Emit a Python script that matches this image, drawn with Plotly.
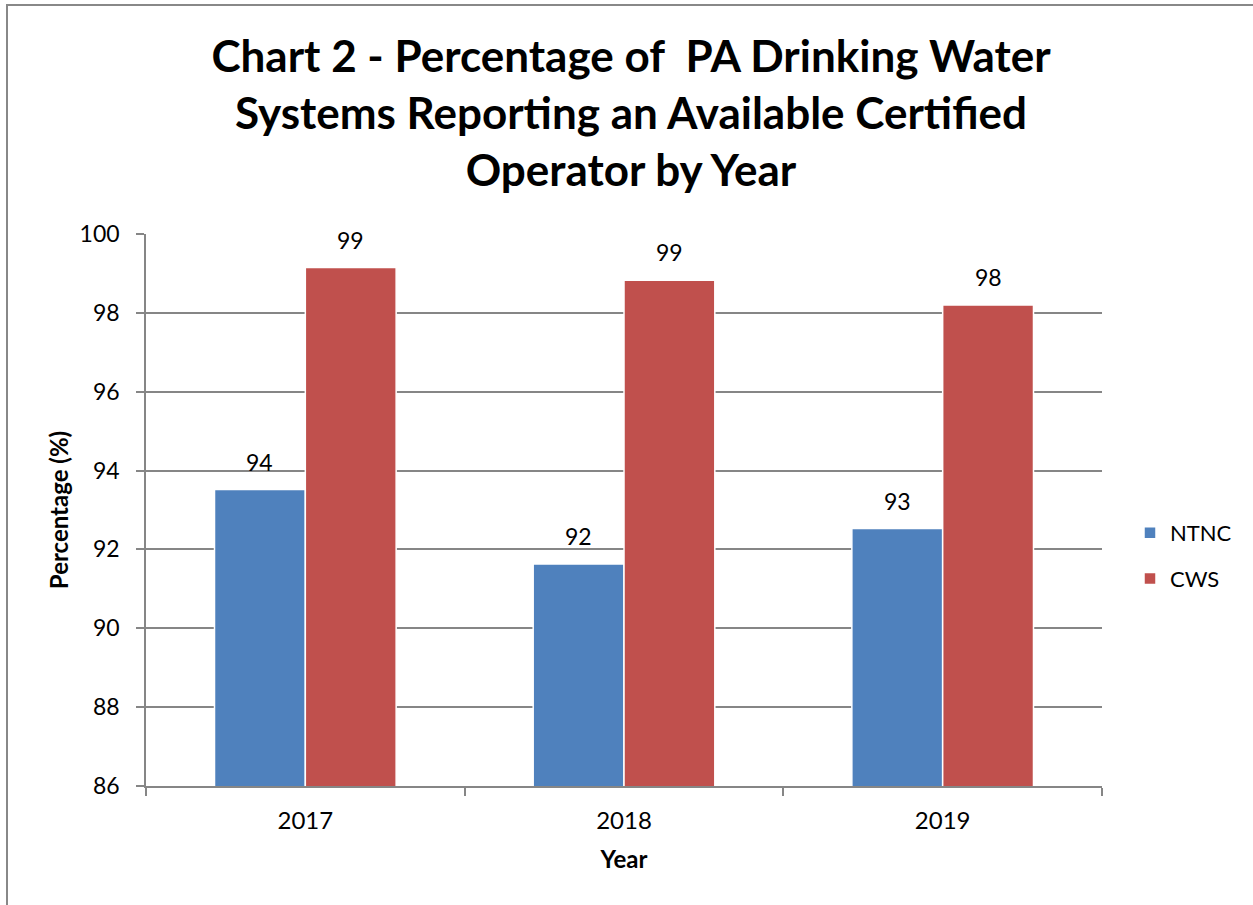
import plotly.graph_objects as go

years = ["2017", "2018", "2019"]
ntnc = [93.52, 91.63, 92.53]
cws = [99.15, 98.83, 98.20]
series_names = ["NTNC", "CWS"]
colors = ["#4F81BD", "#C0504D"]
yticks = [86, 88, 90, 92, 94, 96, 98, 100]

W, H = 1253, 905
L, R, T, B = 146, 151, 234, 119
pw, ph = W - L - R, H - T - B

FONT = "Lato"
BARGAP = 0.43
cat_px = pw / len(years)
bar_px = cat_px * (1 - BARGAP) / 2

fig = go.Figure()
for name, vals, col in zip(series_names, [ntnc, cws], colors):
    fig.add_trace(go.Bar(
        x=years, y=vals, name=name, legendgroup=name,
        marker=dict(color=col, line=dict(color="white", width=1.5)),
    ))

# data labels, placed over each bar via the axes (category index positions)
for i, vals in enumerate([ntnc, cws]):
    shift = (i - 0.5) * bar_px
    for k, v in enumerate(vals):
        fig.add_annotation(
            x=k, y=v, xref="x", yref="y", text=f"{round(v):d}",
            showarrow=False, xanchor="center", yanchor="bottom",
            xshift=shift, yshift=12,
            font=dict(family=FONT, size=23, color="black"),
        )

def px_x(px):
    return (px - L) / pw

def px_y(py):
    return (H - B - py) / ph

fig.update_layout(
    width=W, height=H,
    margin=dict(l=L, r=R, t=T, b=B),
    paper_bgcolor="white", plot_bgcolor="white",
    barmode="group", bargap=BARGAP, bargroupgap=0.0,
    font=dict(family=FONT, color="black"),
    title=dict(
        text="Chart 2 - Percentage of \u00a0PA Drinking Water<br>Systems Reporting an Available Certified<br>Operator by Year",
        x=px_x(631), xanchor="center", xref="paper",
        y=1 - 72 / H, yanchor="top", yref="container",
        font=dict(family=FONT, size=44, color="black", weight="bold"),
    ),
    showlegend=True,
    legend=dict(
        x=px_x(1130), xanchor="left", y=px_y(512), yanchor="top",
        font=dict(family=FONT, size=22, color="black"),
        tracegroupgap=14, itemwidth=30, bgcolor="rgba(0,0,0,0)",
    ),
    xaxis=dict(
        type="category", range=[-0.5, len(years) - 0.5],
        showgrid=False, showline=True, linecolor="#868686", linewidth=1.5,
        ticks="outside", tickson="boundaries", ticklen=8, tickcolor="#868686", tickwidth=1.5,
        ticklabelstandoff=12, tickangle=0,
        tickfont=dict(family=FONT, size=24, color="black"),
        title=dict(text="<b>Year</b>", font=dict(family=FONT, size=24, color="black"), standoff=19),
    ),
    yaxis=dict(
        range=[86, 100], tickvals=yticks, ticktext=[str(v) for v in yticks],
        showgrid=True, gridcolor="#868686", gridwidth=1.5,
        showline=True, linecolor="#868686", linewidth=1.5,
        ticks="outside", ticklen=8, tickcolor="#868686", tickwidth=1.5,
        ticklabelstandoff=12,
        tickfont=dict(family=FONT, size=23, color="black"),
        title=dict(text="<b>Percentage (%)</b>", font=dict(family=FONT, size=24, color="black"), standoff=4),
        zeroline=False,
    ),
)

# outer chart border (top and left visible)
fig.add_shape(type="rect", xref="paper", yref="paper",
              x0=px_x(7), x1=px_x(W + 20), y0=px_y(H + 20), y1=px_y(5),
              line=dict(color="#888888", width=2), fillcolor="rgba(0,0,0,0)", layer="below")

fig.write_html("out.html")
